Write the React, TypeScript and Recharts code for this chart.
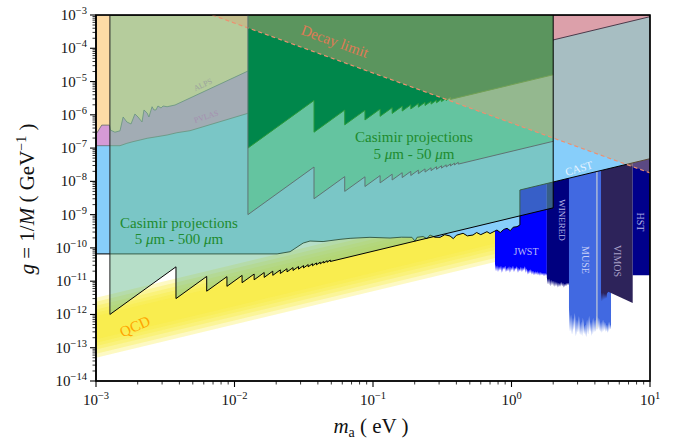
import React from 'react'
import { ComposedChart, Area, Line, XAxis, YAxis, ReferenceArea } from 'recharts'

type Pt = [number, number] // [m_a (eV), g (GeV^-1)]

const SERIF = '"Liberation Serif", "DejaVu Serif", serif'
const G_TOP = 1e-3

const X_MAJOR = [1e-3, 1e-2, 1e-1, 1, 10]
const Y_MAJOR = [1e-14, 1e-13, 1e-12, 1e-11, 1e-10, 1e-9, 1e-8, 1e-7, 1e-6, 1e-5, 1e-4, 1e-3]
const MINOR_STEPS = [2, 3, 4, 5, 6, 7, 8, 9]

// lower edges of the excluded / projected regions (they run up to G_TOP)
const CAST_EDGE: Pt[] = [
  [1e-3, 6.6e-11], [0.0203, 6.6e-11], [0.0252, 7.7e-11], [0.0313, 1.4e-10], [0.0351, 1.61e-10],
  [0.0436, 1.55e-10], [0.0578, 1.81e-10], [0.0683, 1.94e-10], [0.0951, 2.08e-10], [0.1327, 1.98e-10],
  [0.16, 2.1e-10], [0.191, 2.08e-10], [0.201, 1.6e-10], [0.208, 2.08e-10], [0.23, 2.2e-10],
  [0.245, 1.9e-10], [0.258, 2.44e-10], [0.28, 2.1e-10], [0.305, 2.08e-10], [0.33, 2.5e-10],
  [0.36, 2.28e-10], [0.38, 1.9e-10], [0.4, 2.4e-10], [0.447, 2.75e-10], [0.48, 2.3e-10],
  [0.527, 2.44e-10], [0.56, 2.9e-10], [0.6, 2.5e-10], [0.665, 3.07e-10], [0.7, 2.7e-10],
  [0.785, 3.45e-10], [0.83, 2.9e-10], [0.88, 3.6e-10], [0.929, 3.88e-10], [0.98, 3.3e-10],
  [1.03, 4.2e-10], [1.096, 4.34e-10], [1.15, 4.88e-10], [1.15, 5.5e-9], [10, 4.8e-8],
]

const PVLAS_EDGE: Pt[] = [
  [1e-3, 1.18e-7], [1.49e-3, 1.18e-7], [1.67e-3, 1.39e-7], [1.85e-3, 1.56e-7], [2.08e-3, 1.75e-7],
  [2.34e-3, 1.97e-7], [2.76e-3, 2.2e-7], [3.26e-3, 2.47e-7], [3.84e-3, 2.9e-7], [4.77e-3, 3.33e-7],
  [1.25e-2, 1.11e-6],
]

const ALPS_EDGE: Pt[] = [
  [1e-3, 2.6e-7], [1.1e-3, 4.9e-7], [1.25e-3, 4.9e-7], [1.27e-3, 3.5e-7], [1.37e-3, 3.0e-7],
  [1.49e-3, 3.3e-7], [1.57e-3, 8.6e-7], [1.67e-3, 6.1e-7], [1.79e-3, 5.3e-7], [1.91e-3, 1.06e-6],
  [2.01e-3, 8.6e-7], [2.15e-3, 6.1e-7], [2.22e-3, 1.4e-6], [2.34e-3, 1.13e-6], [2.41e-3, 8.6e-7],
  [2.54e-3, 1.75e-6], [2.62e-3, 1.4e-6], [2.71e-3, 1.4e-6], [2.8e-3, 1.84e-6], [2.95e-3, 1.6e-6],
  [3.05e-3, 1.84e-6], [3.26e-3, 1.75e-6], [3.72e-3, 1.97e-6], [1.25e-2, 2.07e-5],
]

const CASIMIR_500_EDGE: Pt[] = [
  [1.26e-3, 1e-12], [3.78e-3, 2.7e-11], [3.78e-3, 3e-12], [6.3e-3, 1.39e-11], [6.3e-3, 5e-12],
  [8.82e-3, 1.37e-11], [8.82e-3, 7e-12], [1.134e-2, 1.49e-11], [1.134e-2, 9e-12], [1.386e-2, 1.64e-11],
  [1.386e-2, 1.1e-11], [1.638e-2, 1.82e-11], [1.638e-2, 1.3e-11], [1.89e-2, 2.0e-11], [1.89e-2, 1.5e-11],
  [2.142e-2, 2.18e-11], [2.142e-2, 1.7e-11], [2.394e-2, 2.37e-11], [2.394e-2, 1.9e-11], [2.646e-2, 2.56e-11],
  [2.646e-2, 2.1e-11], [2.898e-2, 2.76e-11], [2.898e-2, 2.3e-11], [3.15e-2, 2.95e-11], [3.15e-2, 2.5e-11],
  [3.402e-2, 3.15e-11], [3.402e-2, 2.7e-11], [3.654e-2, 3.35e-11], [3.654e-2, 2.9e-11], [3.906e-2, 3.54e-11],
  [3.906e-2, 3.1e-11], [4.158e-2, 3.74e-11], [4.158e-2, 3.3e-11], [4.41e-2, 3.94e-11], [4.41e-2, 3.5e-11],
  [4.662e-2, 4.13e-11], [4.662e-2, 3.7e-11], [4.914e-2, 4.33e-11], [4.914e-2, 3.9e-11], [2, 1.6e-9],
]

const CASIMIR_50_EDGE: Pt[] = [
  [1.25e-2, 1e-9], [3.75e-2, 2.7e-8], [3.75e-2, 3e-9], [6.25e-2, 1.39e-8], [6.25e-2, 5e-9],
  [8.75e-2, 1.37e-8], [8.75e-2, 7e-9], [0.1125, 1.49e-8], [0.1125, 9e-9], [0.1375, 1.64e-8],
  [0.1375, 1.1e-8], [0.1625, 1.82e-8], [0.1625, 1.3e-8], [0.1875, 2.0e-8], [0.1875, 1.5e-8],
  [0.2125, 2.18e-8], [0.2125, 1.7e-8], [0.2375, 2.37e-8], [0.2375, 1.9e-8], [0.2625, 2.56e-8],
  [0.2625, 2.1e-8], [0.2875, 2.76e-8], [0.2875, 2.3e-8], [0.3125, 2.95e-8], [0.3125, 2.5e-8],
  [0.3375, 3.14e-8], [0.3375, 2.7e-8], [0.3625, 3.34e-8], [0.3625, 2.9e-8], [0.3875, 3.54e-8],
  [0.3875, 3.1e-8], [0.4125, 3.74e-8], [0.4125, 3.3e-8], [2, 1.6e-7],
]

const CASIMIR_50_STRONG_EDGE: Pt[] = [
  [1.25e-2, 1e-7], [3.75e-2, 2.7e-6], [3.75e-2, 3e-7], [6.25e-2, 1.39e-6], [6.25e-2, 5e-7],
  [8.75e-2, 1.37e-6], [8.75e-2, 7e-7], [0.1125, 1.49e-6], [0.1125, 9e-7], [0.1375, 1.64e-6],
  [0.1375, 1.1e-6], [0.1625, 1.82e-6], [0.1625, 1.3e-6], [0.1875, 2.0e-6], [0.1875, 1.5e-6],
  [0.2125, 2.18e-6], [0.2125, 1.7e-6], [0.2375, 2.37e-6], [0.2375, 1.9e-6], [0.2625, 2.56e-6],
  [0.2625, 2.1e-6], [0.2875, 2.76e-6], [0.2875, 2.3e-6], [0.3125, 2.95e-6], [0.3125, 2.5e-6],
  [0.3375, 3.14e-6], [0.3375, 2.7e-6], [0.3625, 3.34e-6], [0.3625, 2.9e-6], [2, 1.6e-5],
]

const DECAY_EDGE: Pt[] = [[6.9e-3, 1e-3], [10, 1.8e-8]]
const TOP_RIGHT_EDGE: Pt[] = [[2, 1.78e-4], [10, 8.9e-4]]

// telescope bounds: lower edges, upper edge hidden under CAST
const JWST_EDGE: Pt[] = [
  [0.76, 3.3e-11], [0.773, 2.0e-11], [0.786, 3.0e-11], [0.799, 1.9e-11], [0.812, 2.8e-11], [0.826, 2.1e-11],
  [0.84, 2.9e-11], [0.853, 1.8e-11], [0.868, 2.7e-11], [0.883, 2.2e-11], [0.9, 2.9e-11], [0.912, 1.9e-11],
  [0.93, 2.6e-11], [0.943, 2.0e-11], [0.96, 2.8e-11], [0.975, 1.8e-11], [0.99, 2.7e-11], [1.008, 2.1e-11],
  [1.025, 2.9e-11], [1.042, 1.9e-11], [1.06, 2.6e-11], [1.077, 2.2e-11], [1.095, 2.8e-11], [1.114, 1.8e-11],
  [1.13, 2.5e-11], [1.152, 2.0e-11], [1.17, 2.7e-11], [1.19, 1.9e-11], [1.21, 2.6e-11], [1.23, 2.1e-11],
  [1.25, 2.8e-11], [1.27, 1.8e-11], [1.29, 2.4e-11], [1.315, 1.6e-11], [1.34, 2.2e-11], [1.36, 1.7e-11],
  [1.38, 2.3e-11], [1.405, 1.6e-11], [1.43, 2.1e-11], [1.453, 1.5e-11], [1.48, 2.0e-11], [1.503, 1.55e-11],
  [1.53, 2.0e-11], [1.553, 1.5e-11], [1.58, 1.9e-11], [1.606, 1.45e-11], [1.63, 1.9e-11], [1.66, 1.5e-11],
  [1.69, 1.8e-11], [1.717, 1.4e-11], [1.745, 1.8e-11], [1.775, 1.45e-11], [1.8, 1.7e-11],
]
const WINERED_EDGE: Pt[] = [
  [1.8, 1.3e-11], [1.835, 8e-12], [1.866, 1.2e-11], [1.9, 7e-12], [1.93, 1.1e-11], [1.96, 7.5e-12],
  [1.994, 1.05e-11], [2.03, 6.8e-12], [2.06, 1e-11], [2.095, 7e-12], [2.13, 9.5e-12], [2.165, 6.5e-12],
  [2.2, 9e-12], [2.24, 6.8e-12], [2.28, 9.5e-12], [2.32, 7e-12], [2.355, 9e-12], [2.39, 6.5e-12],
  [2.434, 8.5e-12], [2.475, 7e-12], [2.516, 9e-12], [2.56, 7.5e-12], [2.6, 9e-12], [2.69, 9e-12],
]
const MUSE_EDGE: Pt[] = [
  [2.6, 1.5e-12], [2.645, 3e-13], [2.69, 1.0e-12], [2.735, 2.5e-13], [2.78, 8e-13], [2.825, 3.5e-13],
  [2.87, 1.1e-12], [2.92, 2.2e-13], [2.97, 7e-13], [3.02, 2.8e-13], [3.07, 9e-13], [3.125, 2.4e-13],
  [3.18, 6e-13], [3.23, 2.2e-13], [3.28, 8e-13], [3.34, 2.6e-13], [3.4, 5e-13], [3.455, 2.1e-13],
  [3.51, 7e-13], [3.57, 2.5e-13], [3.63, 9e-13], [3.69, 3e-13], [3.75, 6e-13], [3.81, 2.3e-13],
  [3.88, 8e-13], [3.94, 2.8e-13], [4.01, 7e-13], [4.07, 3e-13], [4.14, 9e-13], [4.21, 3.5e-13],
  [4.28, 8e-13], [4.36, 3e-13], [4.43, 6e-13], [4.5, 2.8e-13], [4.58, 7e-13], [4.65, 3.2e-13],
  [4.73, 6e-13], [4.81, 3e-13], [4.89, 5e-13], [4.97, 2.8e-13], [5.06, 6e-13], [5.14, 3.5e-13], [5.23, 5e-13],
]
const MUSE_GAP_EDGE: Pt[] = [[4.11, 4e-13], [4.17, 4e-13]]
const VIMOS_EDGE: Pt[] = [
  [4.43, 4.5e-12], [4.5, 2.5e-12], [4.58, 4.5e-12], [4.65, 2.8e-12], [4.73, 4.2e-12], [4.81, 3e-12],
  [4.89, 4.3e-12], [5.0, 4.8e-12], [7.5, 2.2e-12],
]
const HST_EDGE: Pt[] = [[7.5, 1.5e-11], [10, 1.5e-11]]

// QCD axion band: nested layers, [low, high] at each mass
const QCD_MASS = [1e-3, 0.76]
const QCD_LAYERS: Pt[][] = [
  [[5.0e-14, 3.2e-12], [3.8e-11, 2.4e-9]],
  [[6.6e-14, 2.4e-12], [5.0e-11, 1.83e-9]],
  [[8.8e-14, 1.83e-12], [6.6e-11, 1.39e-9]],
  [[1.13e-13, 1.42e-12], [8.6e-11, 1.08e-9]],
  [[1.42e-13, 1.13e-12], [1.08e-10, 8.6e-10]],
  [[1.79e-13, 9.0e-13], [1.36e-10, 6.8e-10]],
]

const region = (edge: Pt[], top = G_TOP) => edge.map(([x, g]) => ({ x, r: [g, top] }))
const curve = (edge: Pt[]) => edge.map(([x, g]) => ({ x, g }))
const leftSide = (edge: Pt[]) => [{ x: edge[0][0], g: edge[0][1] }, { x: edge[0][0], g: G_TOP }]
const rightSide = (edge: Pt[]) => {
  const p = edge[edge.length - 1]
  return [{ x: p[0], g: p[1] }, { x: p[0], g: G_TOP }]
}

const minorOf = (decades: number[]) => decades.slice(0, -1).flatMap((d) => MINOR_STEPS.map((k) => k * d))
const X_TICKS = [...X_MAJOR, ...minorOf(X_MAJOR)].sort((a, b) => a - b)
const Y_TICKS = [...Y_MAJOR, ...minorOf(Y_MAJOR)].sort((a, b) => a - b)

function expOf(v: number) {
  const l = Math.log10(v)
  const e = Math.round(l)
  return { e, major: Math.abs(l - e) < 1e-6 }
}
const expText = (e: number) => (e < 0 ? `\u2212${-e}` : `${e}`)

function XTick(props: any) {
  const { x, y, payload } = props
  const { e, major } = expOf(payload.value)
  return (
    <g>
      <line x1={x} x2={x} y1={y} y2={y + (major ? 6 : 3.5)} stroke="#000" strokeWidth={major ? 1.1 : 0.8} />
      {major && (
        <text x={x} y={y + 24} textAnchor="middle" fontFamily={SERIF} fontSize={15} fill="#111">
          10<tspan dy={-6} fontSize={10.5}>{expText(e)}</tspan>
        </text>
      )}
    </g>
  )
}

function YTick(props: any) {
  const { x, y, payload } = props
  const { e, major } = expOf(payload.value)
  return (
    <g>
      <line x1={x - (major ? 6 : 3.5)} x2={x} y1={y} y2={y} stroke="#000" strokeWidth={major ? 1.1 : 0.8} />
      {major && (
        <text x={x - 9} y={y + 5} textAnchor="end" fontFamily={SERIF} fontSize={15} fill="#111">
          10<tspan dy={-6} fontSize={10.5}>{expText(e)}</tspan>
        </text>
      )}
    </g>
  )
}

// text drawn on a transparent layer above the plot
function Labels() {
  const t = { fontFamily: SERIF }
  return (
    <svg width={679} height={441} style={{ position: 'absolute', left: 0, top: 0, pointerEvents: 'none' }}>
      <rect x={96} y={15} width={554} height={366} fill="none" stroke="#000" strokeWidth={1.3} />
      <text {...t} x={333} y={46} fontSize={15} fill="#E07A55" textAnchor="middle" transform="rotate(20 333 46)">Decay limit</text>
      <text {...t} x={179} y={228} fontSize={15} fill="#1E8B2E" textAnchor="middle">Casimir projections</text>
      <text {...t} x={179} y={244} fontSize={15} fill="#1E8B2E" textAnchor="middle">
        5 <tspan fontStyle="italic">μ</tspan>m - 500 <tspan fontStyle="italic">μ</tspan>m
      </text>
      <text {...t} x={414} y={142} fontSize={15} fill="#1E8B2E" textAnchor="middle">Casimir projections</text>
      <text {...t} x={414} y={159} fontSize={15} fill="#1E8B2E" textAnchor="middle">
        5 <tspan fontStyle="italic">μ</tspan>m - 50 <tspan fontStyle="italic">μ</tspan>m
      </text>
      <text {...t} x={204} y={87} fontSize={8} fill="#9CA49C" textAnchor="middle" transform="rotate(-25 204 87)">ALPS</text>
      <text {...t} x={207} y={119} fontSize={8} fill="#A58FB0" textAnchor="middle" transform="rotate(-18 207 119)">PVLAS</text>
      <text {...t} x={137} y={331} fontSize={15} fill="#FFA500" textAnchor="middle" transform="rotate(-24 137 331)">QCD</text>
      <text {...t} x={580} y={172} fontSize={11} fill="#E8F4FF" textAnchor="middle" transform="rotate(-16 580 172)">CAST</text>
      <text {...t} x={526} y={255} fontSize={10} fill="#B8B8F8" textAnchor="middle">JWST</text>
      <text {...t} x={559} y={220} fontSize={9} fill="#B8B8E8" textAnchor="middle" transform="rotate(90 559 220)">WINERED</text>
      <text {...t} x={582} y={260} fontSize={10} fill="#C8D0F8" textAnchor="middle" transform="rotate(90 582 260)">MUSE</text>
      <text {...t} x={614} y={261} fontSize={10} fill="#A8A0C8" textAnchor="middle" transform="rotate(90 614 261)">VIMOS</text>
      <text {...t} x={637} y={222} fontSize={10} fill="#B8B8E8" textAnchor="middle" transform="rotate(90 637 222)">HST</text>
      <text {...t} x={34} y={199} fontSize={21} fill="#111" textAnchor="middle" transform="rotate(-90 34 199)">
        <tspan fontStyle="italic">g</tspan> = 1/<tspan fontStyle="italic">M</tspan> ( GeV<tspan dy={-8} fontSize={14}>−1</tspan>
        <tspan dy={8}> )</tspan>
      </text>
      <text {...t} x={371} y={433} fontSize={21} fill="#111" textAnchor="middle">
        <tspan fontStyle="italic">m</tspan><tspan dy={4} fontSize={14}>a</tspan><tspan dy={-4}> ( eV )</tspan>
      </text>
    </svg>
  )
}

const fillArea = (key: string, data: any[], fill: string, opts: any = {}) => (
  <Area
    key={key}
    data={data}
    dataKey="r"
    type="linear"
    fill={fill}
    fillOpacity={opts.opacity ?? 1}
    stroke={opts.stroke ?? 'none'}
    strokeWidth={opts.width ?? 1}
    dot={false}
    activeDot={false}
    isAnimationActive={false}
  />
)

const edgeLine = (key: string, data: any[], stroke: string, width = 1, dash?: string) => (
  <Line
    key={key}
    data={data}
    dataKey="g"
    type="linear"
    stroke={stroke}
    strokeWidth={width}
    strokeDasharray={dash}
    dot={false}
    activeDot={false}
    isAnimationActive={false}
  />
)

export default function App() {
  return (
    <div style={{ position: 'absolute', left: 0, top: 0, width: 679, height: 441, background: '#fff' }}>
      <ComposedChart width={679} height={441} margin={{ top: 15, right: 29, bottom: 0, left: 0 }}>
        <XAxis
          dataKey="x"
          type="number"
          scale="log"
          domain={[1e-3, 10]}
          allowDataOverflow
          ticks={X_TICKS}
          interval={0}
          tick={<XTick />}
          tickLine={false}
          tickSize={0}
          tickMargin={0}
          height={60}
          axisLine={{ stroke: '#000', strokeWidth: 1.2 }}
        />
        <YAxis
          type="number"
          scale="log"
          domain={[1e-14, 1e-3]}
          allowDataOverflow
          ticks={Y_TICKS}
          interval={0}
          tick={<YTick />}
          tickLine={false}
          tickSize={0}
          tickMargin={0}
          width={96}
          axisLine={{ stroke: '#000', strokeWidth: 1.2 }}
        />

        {QCD_LAYERS.map((layer, i) =>
          fillArea(`qcd${i}`, QCD_MASS.map((x, j) => ({ x, r: layer[j] })), '#F8EA38', { opacity: 0.3 })
        )}

        {fillArea('jwst', region(JWST_EDGE, 1e-8), '#0000FF')}
        {fillArea('winered', region(WINERED_EDGE, 2e-8), '#00007F')}
        {fillArea('muse', region(MUSE_EDGE, 3e-8), '#4169E1')}
        {fillArea('musegap', region(MUSE_GAP_EDGE, 3e-8), '#F4F0D2', { stroke: '#F4F0D2' })}
        {fillArea('vimos', region(VIMOS_EDGE, 5e-8), '#2D235A')}
        {fillArea('hst', region(HST_EDGE, 1e-7), '#00008B')}

        {fillArea('cast', region(CAST_EDGE), '#87CEFA', { stroke: '#000', width: 1 })}
        {fillArea('pvlas', region(PVLAS_EDGE), '#D69AD6', { stroke: '#5E6A6A', width: 0.8 })}
        {fillArea('alps', region(ALPS_EDGE), '#FDDBA6', { stroke: '#5E6A6A', width: 0.8 })}

        {fillArea('cas500', region(CASIMIR_500_EDGE), '#6EBE92', { opacity: 0.5, stroke: '#000', width: 1 })}
        {fillArea('cas50', region(CASIMIR_50_EDGE), '#64C4A0', { stroke: '#5F7373', width: 1 })}
        {fillArea('cas50s', region(CASIMIR_50_STRONG_EDGE), '#00874B', { stroke: '#2A9A3A', width: 1 })}

        {fillArea('decay', region(DECAY_EDGE), '#D2AA78', { opacity: 0.43 })}
        {fillArea('topright', region(TOP_RIGHT_EDGE), '#DCA0AA', { stroke: '#4A3A4A', width: 1 })}

        {edgeLine('decayline', curve(DECAY_EDGE), '#EE9070', 1.2, '4 3')}
        {edgeLine('cas500l', leftSide(CASIMIR_500_EDGE), '#222', 1)}
        {edgeLine('cas500r', rightSide(CASIMIR_500_EDGE), '#000', 1)}
        {edgeLine('cas50l', leftSide(CASIMIR_50_EDGE), '#5F7373', 1)}

        <ReferenceArea x1={1e-3} x2={10} y1={1e-14} y2={1e-3} fill="none" stroke="#000" strokeWidth={1.2} ifOverflow="visible" />
      </ComposedChart>
      <Labels />
    </div>
  )
}
